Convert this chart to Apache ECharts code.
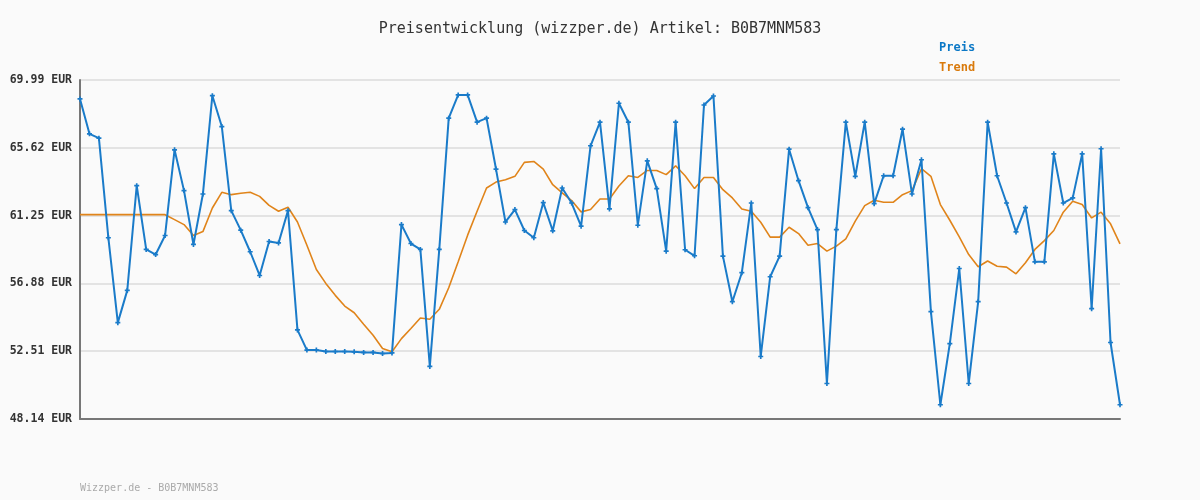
<!DOCTYPE html>
<html>
<head>
<meta charset="utf-8">
<script src="https://cdn.jsdelivr.net/npm/echarts@6/dist/echarts.min.js"></script>
<style>
html, body { margin: 0; padding: 0; background: #fafafa; }
#main { width: 1200px; height: 500px; }
</style>
</head>
<body>
<div id="main"></div>
<script>
// Preis, one value per day
var preis = [
    68.77, 66.52, 66.24, 59.82, 54.35, 56.43, 63.18, 59.07, 58.74, 59.97,
    65.49, 62.86, 59.39, 62.64, 68.98, 66.99, 61.57, 60.31, 58.92, 57.39,
    59.58, 59.49, 61.57, 53.88, 52.58, 52.58, 52.49, 52.49, 52.49, 52.47,
    52.43, 52.43, 52.36, 52.40, 60.67, 59.45, 59.07, 51.53, 59.07, 67.53,
    69.03, 69.03, 67.27, 67.53, 64.25, 60.84, 61.64, 60.29, 59.82, 62.09,
    60.27, 63.03, 62.06, 60.57, 65.75, 67.27, 61.68, 68.49, 67.27, 60.63,
    64.78, 62.99, 58.96, 67.27, 59.05, 58.66, 68.38, 68.96, 58.64, 55.70,
    57.57, 62.06, 52.17, 57.31, 58.64, 65.53, 63.50, 61.76, 60.35, 50.43,
    60.35, 67.27, 63.78, 67.27, 62.02, 63.82, 63.82, 66.82, 62.64, 64.85,
    55.06, 49.06, 53.00, 57.84, 50.43, 55.70, 67.27, 63.82, 62.06, 60.20,
    61.76, 58.27, 58.27, 65.23, 62.06, 62.39, 65.23, 55.25, 65.56, 53.07,
    49.06
];

// Trend
var trend = [
    61.31, 61.31, 61.31, 61.31, 61.31, 61.31, 61.31, 61.31, 61.31, 61.31,
    60.99, 60.67, 59.97, 60.22, 61.74, 62.75, 62.60, 62.69, 62.75, 62.49,
    61.91, 61.53, 61.79, 60.84, 59.34, 57.78, 56.88, 56.11, 55.42, 54.99,
    54.25, 53.54, 52.68, 52.47, 53.32, 53.97, 54.65, 54.57, 55.21, 56.60,
    58.27, 59.99, 61.53, 63.03, 63.41, 63.56, 63.78, 64.68, 64.74, 64.25,
    63.24, 62.71, 62.22, 61.49, 61.64, 62.32, 62.32, 63.16, 63.82, 63.71,
    64.16, 64.16, 63.89, 64.46, 63.82, 62.99, 63.71, 63.71, 62.92, 62.39,
    61.68, 61.53, 60.82, 59.86, 59.86, 60.50, 60.09, 59.34, 59.45, 58.96,
    59.28, 59.75, 60.89, 61.89, 62.24, 62.11, 62.11, 62.60, 62.86, 64.27,
    63.78, 61.96, 60.95, 59.88, 58.74, 57.95, 58.32, 57.99, 57.93, 57.50,
    58.21, 59.07, 59.64, 60.29, 61.47, 62.17, 61.96, 61.10, 61.47, 60.72,
    59.43
];

var yTicks = [48.14, 52.51, 56.88, 61.25, 65.62, 69.99];

var tage = [];
for (var i = 0; i < preis.length; i++) {
    tage.push('Tag ' + (i + 1));
}

var blau = '#1a7bc9';
var orange = '#e0841a';
var mono = '"DejaVu Sans Mono", "Liberation Mono", monospace';

var myChart = echarts.init(document.getElementById('main'));
var option = {
    backgroundColor: '#fafafa',
    animation: false,
    title: [
        {
            text: 'Preisentwicklung (wizzper.de) Artikel: B0B7MNM583',
            left: 'center',
            top: 17,
            textStyle: { fontFamily: mono, fontSize: 15, fontWeight: 'normal', color: '#333' }
        },
        {
            text: 'Wizzper.de - B0B7MNM583',
            left: 75,
            top: 478,
            textStyle: { fontFamily: mono, fontSize: 10, fontWeight: 'normal', color: '#aaaaaa' }
        }
    ],
    legend: {
        orient: 'vertical',
        left: 928,
        top: 37,
        itemWidth: 0,
        itemHeight: 0,
        itemGap: 8,
        selectedMode: false,
        data: [
            { name: 'Preis', textStyle: { color: '#0b78c6' } },
            { name: 'Trend', textStyle: { color: '#d97a0c' } }
        ],
        textStyle: { fontFamily: mono, fontSize: 12, fontWeight: 'bold' }
    },
    grid: { left: 80, right: 80, top: 80, bottom: 81 },
    xAxis: {
        type: 'category',
        data: tage,
        boundaryGap: false,
        axisLine: { lineStyle: { color: '#777', width: 2 } },
        axisTick: { show: false },
        axisLabel: { show: false },
        splitLine: { show: false }
    },
    yAxis: {
        type: 'value',
        min: 48.14,
        max: 69.99,
        axisLine: { show: true, lineStyle: { color: '#777', width: 2 } },
        axisTick: { show: false, customValues: yTicks },
        axisLabel: {
            customValues: yTicks,
            margin: 8,
            fontFamily: mono,
            fontSize: 11.5,
            fontWeight: 'bold',
            color: '#333',
            formatter: function (v) { return v.toFixed(2) + ' EUR'; }
        },
        splitLine: { show: true, lineStyle: { color: '#e3e3e3', width: 2 } }
    },
    series: [
        {
            name: 'Preis',
            type: 'line',
            data: preis,
            symbol: 'path://M2,0H4V2H6V4H4V6H2V4H0V2H2Z',
            symbolSize: 5,
            showAllSymbol: true,
            itemStyle: { color: blau },
            lineStyle: { color: blau, width: 2 },
            z: 3
        },
        {
            name: 'Trend',
            type: 'line',
            data: trend,
            symbol: 'none',
            itemStyle: { color: orange },
            lineStyle: { color: orange, width: 1.6 },
            z: 2
        }
    ]
};
myChart.setOption(option);
</script>
</body>
</html>
